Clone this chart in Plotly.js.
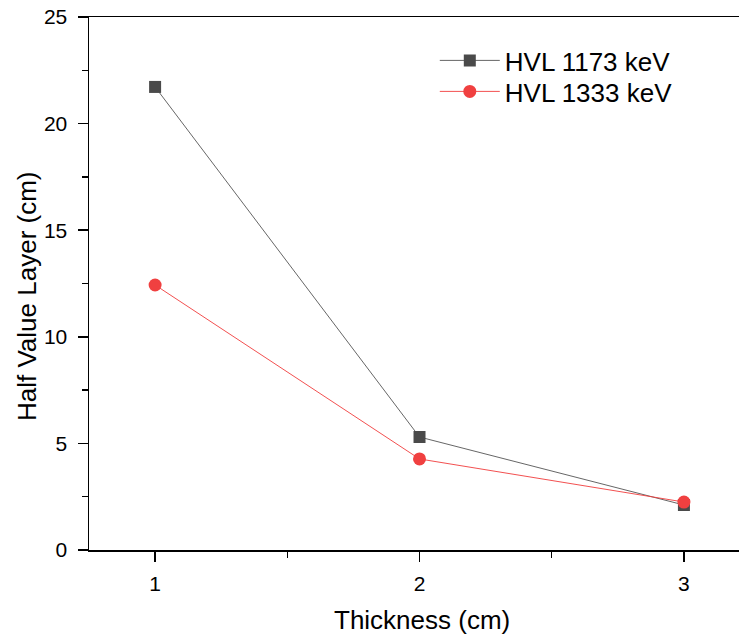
<!DOCTYPE html>
<html><head><meta charset="utf-8">
<script src="https://cdn.plot.ly/plotly-3.0.1.min.js"></script>
<style>html,body{margin:0;padding:0;background:#fff;}#chart{width:739px;height:644px;}</style>
</head><body><div id="chart"></div>
<script>
const thickness = [1, 2, 3];
const hvl1173 = [21.72, 5.30, 2.11];
const hvl1333 = [12.43, 4.27, 2.25];
const seriesNames = ["HVL 1173 keV", "HVL 1333 keV"];
const xTitle = "Thickness (cm)";
const yTitle = "Half Value Layer (cm)";
const xTicks = [1, 2, 3];
const yTicks = [0, 5, 10, 15, 20, 25];

const font = "Liberation Sans, Arial, sans-serif";
const data = [
  {x: thickness, y: hvl1173, name: seriesNames[0], mode: "lines+markers", type: "scatter",
   legend: "legend",
   line: {color: "#555555", width: 0.9},
   marker: {symbol: "square", size: 12, color: "#4a4a4a"}},
  {x: thickness, y: hvl1333, name: seriesNames[1], mode: "lines+markers", type: "scatter",
   legend: "legend2",
   line: {color: "#f03c3c", width: 0.9},
   marker: {symbol: "circle", size: 13, color: "#f04040"}}
];
const legendBase = {x: 0.532, xanchor: "left", yanchor: "top", bgcolor: "rgba(0,0,0,0)",
  font: {size: 26, family: font}, itemwidth: 60};
const layout = {
  width: 739, height: 644,
  margin: {l: 89, r: 0, t: 17, b: 94},
  paper_bgcolor: "#fff", plot_bgcolor: "#fff",
  font: {family: font, color: "#000", size: 21},
  showlegend: true,
  legend: Object.assign({}, legendBase, {y: 1 - (37 - 17) / 533}),
  legend2: Object.assign({}, legendBase, {y: 1 - (68 - 17) / 533}),
  xaxis: {range: [0.75, 3.2083], tickvals: xTicks, ticktext: xTicks.map(String),
    showgrid: false, zeroline: false, showline: true, linecolor: "#000", linewidth: 1.5,
    mirror: true, ticks: "outside", ticklen: 10, tickwidth: 1.5, tickcolor: "#000",
    minor: {dtick: 0.5, tick0: 0.5, ticks: "outside", ticklen: 6, tickwidth: 1.5, tickcolor: "#000", showgrid: false},
    tickfont: {size: 21}, ticklabelstandoff: 4},
  yaxis: {range: [0, 25], tickvals: yTicks, ticktext: yTicks.map(String),
    showgrid: false, zeroline: false, showline: true, linecolor: "#000", linewidth: 1.5,
    ticks: "outside", ticklen: 10, tickwidth: 1.5, tickcolor: "#000",
    minor: {dtick: 2.5, tick0: 0, ticks: "outside", ticklen: 6, tickwidth: 1.5, tickcolor: "#000", showgrid: false},
    tickfont: {size: 21}, ticklabelstandoff: 6},
  annotations: [
    {text: xTitle, xref: "paper", yref: "paper", x: (422 - 89) / 650, y: -(620 - 550) / 533,
     xanchor: "center", yanchor: "middle", showarrow: false, font: {size: 26}},
    {text: yTitle, xref: "paper", yref: "paper", x: -(89 - 27) / 650, y: (550 - 296) / 533,
     xanchor: "center", yanchor: "middle", textangle: -90, showarrow: false, font: {size: 26}}
  ]
};
Plotly.newPlot("chart", data, layout, {displayModeBar: false, staticPlot: true});
</script></body></html>
